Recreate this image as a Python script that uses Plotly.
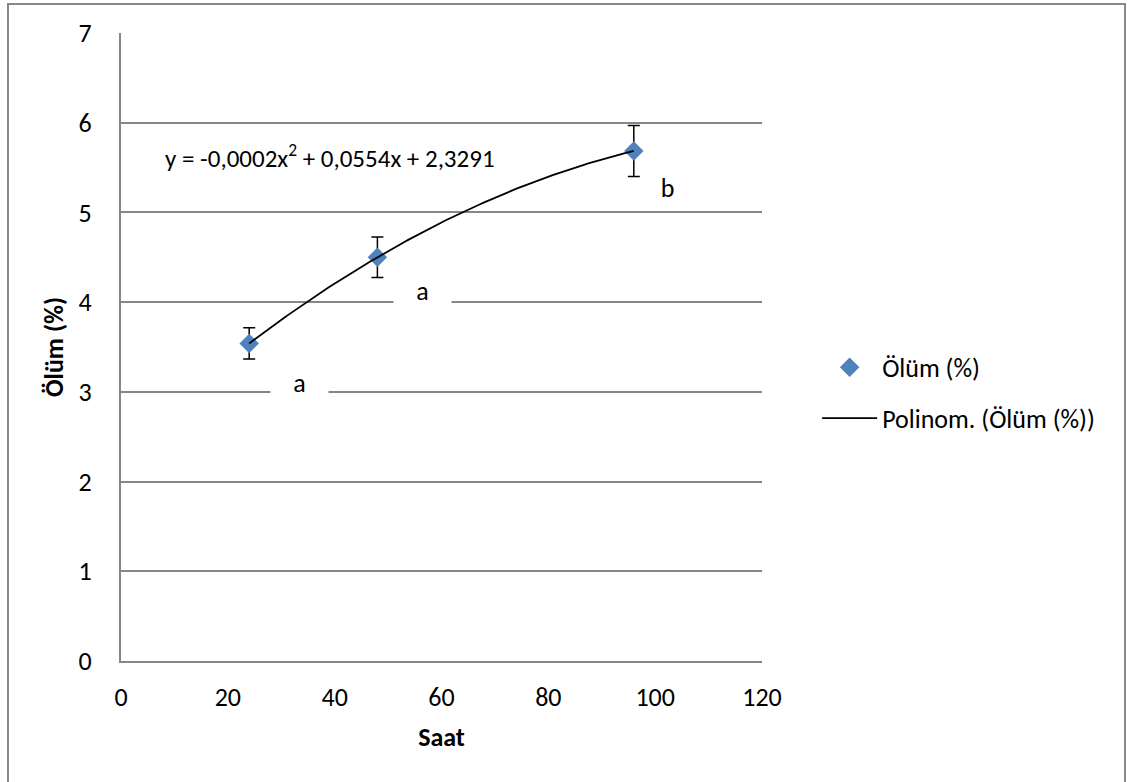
import numpy as np
import plotly.graph_objects as go

# Mortality (%) by exposure time (hours)
saat = [24, 48, 96]
olum = [3.54, 4.50, 5.685]
hata = [0.175, 0.225, 0.285]

x_ticks = [0, 20, 40, 60, 80, 100, 120]
y_ticks = [0, 1, 2, 3, 4, 5, 6, 7]

# significance letters (x, y, letter)
harf_x = [33.5, 56.5, 102.4]
harf_y = [3.10, 4.12, 5.27]
harf = ["a", "a", "b"]

denklem = "y = -0,0002x<sup>2</sup> + 0,0554x + 2,3291"

FONT = "Carlito, Lato, 'Open Sans', sans-serif"
FS = 26

# second-order polynomial trend through the observed points
katsayi = np.polyfit(saat, olum, 2)
xs = np.linspace(min(saat), max(saat), 200)
ys = np.polyval(katsayi, xs)

fig = go.Figure()

fig.add_trace(go.Scatter(
    x=saat, y=olum, mode="markers", name="Ölüm (%)",
    marker=dict(symbol="diamond", size=15, color="#4F81BD"),
    error_y=dict(type="data", array=hata, visible=True, color="black",
                 thickness=1.5, width=6),
    legendgroup="g1",
))

fig.add_trace(go.Scatter(
    x=xs, y=ys, mode="lines", name="Polinom. (Ölüm (%))",
    line=dict(color="black", width=1.8),
    legendgroup="g2",
))

annotations = []
for hx, hy, h in zip(harf_x, harf_y, harf):
    annotations.append(dict(
        x=hx, y=hy, xref="x", yref="y", text=h, showarrow=False,
        font=dict(family=FONT, size=FS, color="black"),
        bgcolor="white" if h == "a" else "rgba(0,0,0,0)",
        width=55, align="center",
    ))

annotations.append(dict(
    x=7.9, y=5.62, xref="x", yref="y", text=denklem, showarrow=False,
    xanchor="left", yanchor="middle",
    font=dict(family=FONT, size=25, color="black"),
))

fig.update_layout(
    width=1132, height=782,
    margin=dict(l=121, r=370, t=33, b=121),
    paper_bgcolor="white", plot_bgcolor="white",
    font=dict(family=FONT, size=FS, color="black"),
    showlegend=True,
    legend=dict(
        x=1.086, y=0.427, xanchor="left", yanchor="middle",
        font=dict(family=FONT, size=FS, color="black"),
        tracegroupgap=14, itemwidth=55,
        bgcolor="rgba(0,0,0,0)",
    ),
    annotations=annotations,
    shapes=[dict(
        type="rect", xref="paper", yref="paper",
        x0=-0.1763, x1=1.5663, y0=-0.21, y1=1.0462,
        line=dict(color="#888888", width=2), fillcolor="rgba(0,0,0,0)",
        layer="below",
    )],
)

fig.update_xaxes(
    range=[0, 120], tickvals=x_ticks, showgrid=False, zeroline=False,
    showline=True, linecolor="#868686", linewidth=2, ticks="",
    ticklabelstandoff=12,
    title=dict(text="<b>Saat</b>", font=dict(family=FONT, size=FS), standoff=16),
)
fig.update_yaxes(
    range=[0, 7], tickvals=y_ticks, showgrid=True, gridcolor="#868686",
    gridwidth=1.5, zeroline=False,
    showline=True, linecolor="#868686", linewidth=2, ticks="",
    ticklabelstandoff=22,
    title=dict(text="<b>Ölüm (%)</b>", font=dict(family=FONT, size=FS), standoff=8),
)

fig.write_html("out.html")
